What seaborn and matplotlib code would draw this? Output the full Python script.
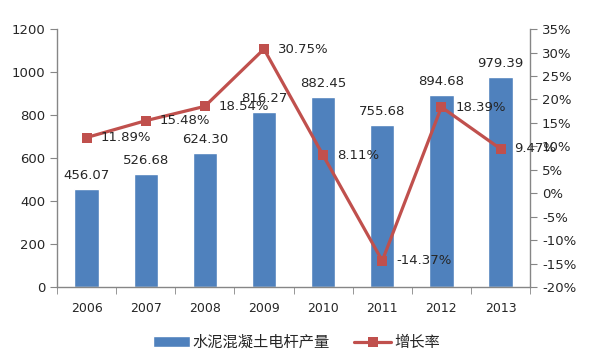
import numpy as np
import pandas as pd
import matplotlib
matplotlib.use("Agg")
import matplotlib.pyplot as plt
import seaborn as sns

years = ["2006", "2007", "2008", "2009", "2010", "2011", "2012", "2013"]
output = [456.07, 526.68, 624.30, 816.27, 882.45, 755.68, 894.68, 979.39]
growth = [11.89, 15.48, 18.54, 30.75, 8.11, -14.37, 18.39, 9.47]
bar_label = "水泥混凝土电杆产量"
line_label = "增长率"

BAR_COLOR = "#4F81BD"
LINE_COLOR = "#C0504D"
AXIS_COLOR = "#868686"
TEXT_COLOR = "#262626"

sns.set_style("white")
plt.rcParams["font.family"] = ["DejaVu Sans", "Noto Sans CJK SC"]

df = pd.DataFrame({"year": years, "output": output, "growth": growth})
df["pos"] = np.arange(len(years))

fig = plt.figure(figsize=(5.93, 3.55), dpi=100)
ax = fig.add_axes([0.096, 0.191, 0.798, 0.727])

sns.barplot(data=df, x="year", y="output", color=BAR_COLOR, width=0.41,
            saturation=1, ax=ax, label=bar_label, zorder=2)
ax.set_ylim(0, 1200)
ax.set_yticks(np.arange(0, 1201, 200))
ax.set_xlim(-0.5, len(years) - 0.5)
ax.set_xlabel("")
ax.set_ylabel("")

for i, v in enumerate(output):
    ax.annotate(f"{v:.2f}", (i, v), xytext=(0, 5), textcoords="offset points",
                ha="center", va="bottom", fontsize=9.5, color=TEXT_COLOR)

ax2 = ax.twinx()
sns.lineplot(data=df, x="pos", y="growth", color=LINE_COLOR, linewidth=2.3,
             marker="s", markersize=7, markeredgewidth=0, ax=ax2,
             label=line_label, zorder=3)
ax2.set_ylim(-20, 35)
ax2.set_yticks(np.arange(-20, 36, 5))
ax2.set_yticklabels([f"{t}%" for t in range(-20, 36, 5)])
ax2.set_ylabel("")
ax2.set_xlabel("")
ax2.set_xlim(-0.5, len(years) - 0.5)

for i, g in enumerate(growth):
    ax2.annotate(f"{g:.2f}%", (i, g), xytext=(10, 0), textcoords="offset points",
                 ha="left", va="center", fontsize=9.5, color=TEXT_COLOR)

for a in (ax, ax2):
    for s in a.spines.values():
        s.set_color(AXIS_COLOR)
        s.set_linewidth(1)
    a.spines["top"].set_visible(False)
    a.grid(False)

ax.spines["right"].set_visible(False)
ax2.spines["left"].set_visible(False)
ax2.spines["bottom"].set_visible(False)

ax.set_xticks(np.arange(-0.5, len(years), 1), minor=True)
ax.tick_params(axis="x", which="major", length=0, pad=11, labelsize=9, colors=TEXT_COLOR)
ax.tick_params(axis="x", which="minor", length=5, color=AXIS_COLOR, direction="out", bottom=True)
ax.tick_params(axis="y", length=5, color=AXIS_COLOR, labelsize=9.5, labelcolor=TEXT_COLOR, left=True, direction="out")
ax2.tick_params(axis="y", length=5, color=AXIS_COLOR, labelsize=9.5, labelcolor=TEXT_COLOR, right=True, direction="out")

h1, l1 = ax.get_legend_handles_labels()
h2, l2 = ax2.get_legend_handles_labels()
if ax.get_legend():
    ax.get_legend().remove()
if ax2.get_legend():
    ax2.get_legend().remove()
fig.legend(h1 + h2, l1 + l2, loc="center", bbox_to_anchor=(0.5, 0.035), ncol=2,
           frameon=False, fontsize=11, handlelength=2.4, columnspacing=1.6,
           handletextpad=0.2)

fig.savefig("out.png", dpi=100)
